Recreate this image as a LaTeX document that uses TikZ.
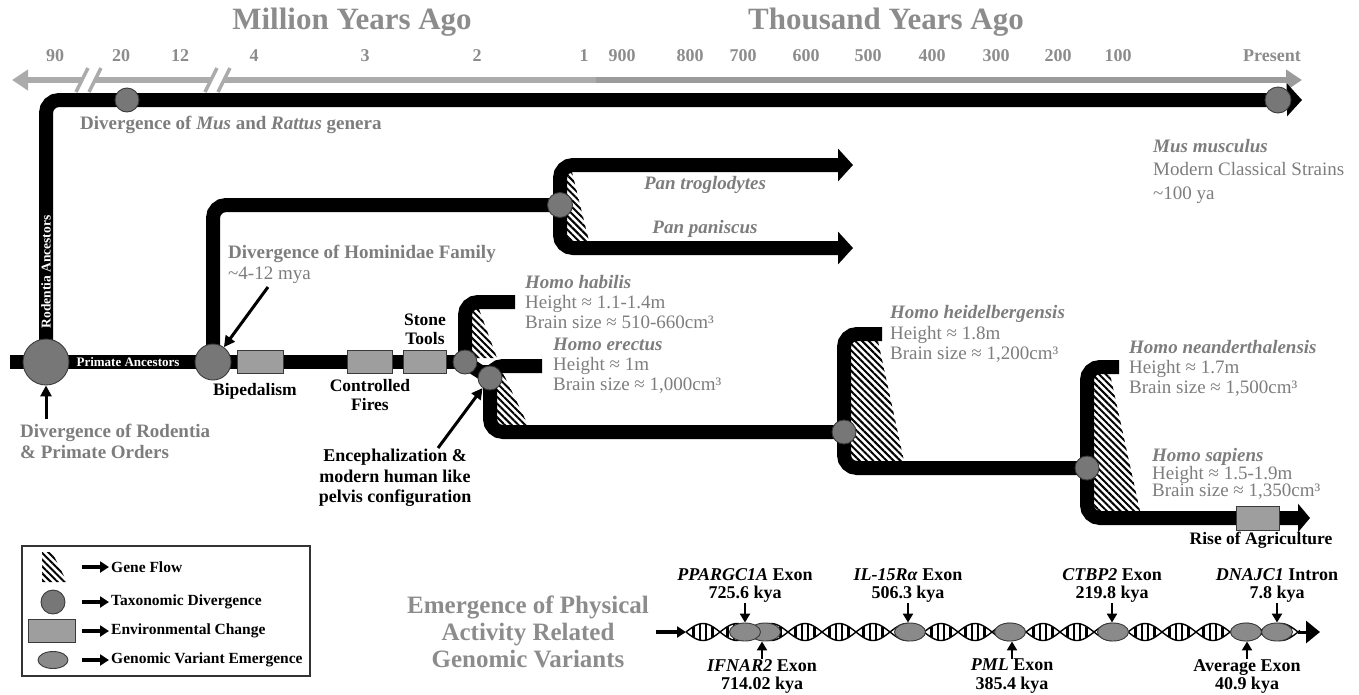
\documentclass[tikz,border=0pt]{standalone}
\usepackage{fontspec}
\setmainfont{Liberation Serif}
\usetikzlibrary{positioning, arrows.meta, shapes.geometric, patterns.meta}

\definecolor{titlegray}{HTML}{8C8C8C}
\definecolor{txtgray}{HTML}{7D7D7D}
\definecolor{axisgray}{HTML}{ABABAB}
\definecolor{axisdark}{HTML}{9B9B9B}
\definecolor{taxgray}{HTML}{777777}
\definecolor{boxgray}{HTML}{9E9E9E}
\definecolor{vargray}{HTML}{8A8A8A}
\definecolor{edgegray}{HTML}{3A3A3A}

\newcommand{\fsz}[2]{\fontsize{#1}{#2}\selectfont}

\tikzset{
  axisline/.style={line width=6pt, axisgray},
  brk/.style={line width=3.5pt, axisgray},
  bar/.style={line width=14pt, rounded corners=13pt},
  bararrow/.style={bar, -{Triangle[length=15pt,width=32pt]}},
  taxon/.style={circle, fill=taxgray, draw=edgegray, line width=0.9pt, inner sep=0pt, minimum size=#1},
  taxon/.default=24pt,
  envbox/.style={rectangle, fill=boxgray, draw=edgegray, line width=0.9pt, inner sep=0pt, minimum width=#1, minimum height=23pt},
  envbox/.default=45pt,
  variant/.style={ellipse, fill=vargray, draw=edgegray, line width=0.9pt, inner sep=0pt, minimum width=31pt, minimum height=18pt},
  geneflow/.style={pattern={Lines[angle=-45,distance=4.8pt,line width=2pt]}},
  ptr/.style={line width=3pt, -{Triangle[length=11pt,width=11pt]}},
  dnaptr/.style={line width=2.8pt, -{Triangle[length=9pt,width=10pt]}},
  legarrow/.style={line width=3.4pt, -{Triangle[length=9pt,width=11pt]}},
  rung/.style={line width=2.6pt},
  axtitle/.style={font=\fsz{31}{33}\bfseries, text=titlegray, inner sep=0pt},
  ticklbl/.style={font=\fsz{18}{20}\bfseries, text=titlegray, inner sep=0pt},
  divtext/.style={font=\fsz{19}{21}\bfseries, text=txtgray, align=left, inner sep=0pt},
  species/.style={font=\fsz{19}{20}, text=txtgray, align=left, inner sep=0pt, anchor=west},
  sppname/.style={font=\fsz{19}{20}\bfseries\itshape, text=txtgray, inner sep=0pt},
  event/.style={font=\fsz{17.5}{19.5}\bfseries, align=center, inner sep=0pt},
  inbar/.style={font=\fsz{13}{13}\bfseries, text=white, inner sep=0pt},
  genelbl/.style={font=\fsz{18}{18.5}\bfseries, align=center, inner sep=0pt},
  legtext/.style={font=\fsz{15.5}{16}\bfseries, anchor=west, inner sep=0pt}
}

\begin{document}
\begin{tikzpicture}[x=1pt, y=-1pt]
\useasboundingbox (0,0) rectangle (1359,694);

% time axis
\node[axtitle] (mya) at (352,22) {Million Years Ago};
\node[axtitle] (kya) at (886,22) {Thousand Years Ago};
\foreach \x/\t in {55/90, 121/20, 180/12, 254/4, 365/3, 477/2, 584/1, 622/900, 690/800, 743/700, 806/600, 868/500, 932/400, 996/300, 1058/200, 1118/100, 1272/Present}
  \node[ticklbl] (tick\x) at (\x,56) {\t};
\coordinate (axL) at (12,80);
\coordinate (axB1a) at (82,80);
\coordinate (axB1b) at (95,80);
\coordinate (axB2a) at (211,80);
\coordinate (axB2b) at (224,80);
\coordinate (axMid) at (596,80);
\coordinate (axR) at (1302,80);
\draw[axisline, {Triangle[length=16pt,width=20pt]}-] (axL) -- (axB1a);
\draw[axisline] (axB1b) -- (axB2a);
\draw[axisline] (axB2b) -- (axMid);
\draw[axisline, axisdark, -{Triangle[length=16pt,width=20pt]}] (axMid) -- (axR);
\foreach \b in {82,95,211,224}
  \draw[brk] ({\b-6},92) -- ({\b+6},68);

% gene flow
\fill[geneflow] (567,172) -- (572,172) -- (589,241) -- (567,241) -- cycle;
\fill[geneflow] (472,309) -- (479,309) -- (497,358) -- (472,358) -- cycle;
\fill[geneflow] (497,373) -- (503,373) -- (528,425) -- (497,425) -- cycle;
\fill[geneflow] (851,341) -- (878,341) -- (904,461) -- (851,461) -- cycle;
\fill[geneflow] (1094,374) -- (1110,374) -- (1140,511) -- (1094,511) -- cycle;

% lineages
\coordinate (jRod) at (46,362);
\coordinate (jHom) at (213,362);
\coordinate (jMus) at (127,100);
\coordinate (jNow) at (1278,100);
\coordinate (jPan) at (560,205);
\coordinate (jHab) at (465,362);
\coordinate (jEre) at (490,378);
\coordinate (jHei) at (844,432);
\coordinate (jNea) at (1087,468);
\coordinate (priStart) at (10,362);
\coordinate (musEnd) at (1302,100);
\coordinate (panTop) at (853,165);
\coordinate (panBot) at (853,248);
\coordinate (habEnd) at (515,302);
\coordinate (ereEnd) at (542,366);
\coordinate (heiEnd) at (882,334);
\coordinate (neaEnd) at (1119,367);
\coordinate (sapEnd) at (1310,518);

\draw[bararrow] (jRod) |- (musEnd);
\draw[bar] (priStart) -- (jHab);
\draw[bar] (jHom) |- (jPan);
\draw[bararrow] (jPan) |- (panTop);
\draw[bararrow] (jPan) |- (panBot);
\draw[bar] (habEnd) -| (jHab);
\draw[bar] (jHab) -- (jEre);
\draw[bar] (ereEnd) -| (jEre) |- (jHei);
\draw[bar] (heiEnd) -| (jHei) |- (jNea);
\draw[bar, -{Triangle[length=12pt,width=28pt]}] (neaEnd) -| (jNea) |- (sapEnd);

\node[inbar, rotate=90, font=\fsz{13.5}{14}\bfseries] (rodAnc) at (46,272) {Rodentia Ancestors};
\node[inbar] (priAnc) at (128,362) {Primate Ancestors};

\node[envbox=46pt] (bipbox) at (260,362) {};
\node[envbox=45pt] (firebox) at (370,362) {};
\node[envbox=43pt] (stonebox) at (425,362) {};
\node[envbox=43pt, minimum height=24pt] (agribox) at (1258,518) {};

\node[taxon=46pt] (rodprim) at (jRod) {};
\node[taxon=36pt] (homdiv) at (jHom) {};
\node[taxon=24pt] (musdiv) at (jMus) {};
\node[taxon=26pt] (musnow) at (jNow) {};
\node[taxon=25pt] (pandiv) at (jPan) {};
\node[taxon=24pt] (habdiv) at (jHab) {};
\node[taxon=24pt] (erediv) at (jEre) {};
\node[taxon=24pt] (heidiv) at (jHei) {};
\node[taxon=24pt] (neadiv) at (jNea) {};

% labels
\node[divtext, anchor=west] (musTxt) at (80,125) {Divergence of \textit{Mus} and \textit{Rattus} genera};
\node[species, font=\fsz{19}{23.5}] (musmus) at (1153,171) {{\bfseries\itshape Mus musculus}\\Modern Classical Strains\\\textasciitilde100 ya};
\node[sppname] (pantro) at (705,185) {Pan troglodytes};
\node[sppname] (panpan) at (705,229) {Pan paniscus};
\node[divtext, anchor=west] (homTxt) at (228,264) {Divergence of Hominidae Family\\{\mdseries\textasciitilde4-12 mya}};
\node[divtext, anchor=west] (rodTxt) at (20,441) {Divergence of Rodentia\\\& Primate Orders};
\coordinate (homPt) at (268,287);
\coordinate (rodPt) at (46,419);
\coordinate (encPt) at (438,448);
\draw[ptr] (homPt) -- (homdiv);
\draw[ptr] (rodPt) -- (rodprim);
\draw[ptr] (encPt) -- (erediv);

\node[event, below=9pt of bipbox, xshift=-5pt] (biplbl) {Bipedalism};
\node[event, below=5pt of firebox] (firelbl) {Controlled\\Fires};
\node[event, above=5pt of stonebox] (stonelbl) {Stone\\Tools};
\node[event, below=2pt of agribox, xshift=3pt] (agrilbl) {Rise of Agriculture};
\node[event, font=\fsz{18}{20.5}\bfseries, anchor=north] (enclbl) at (395,449) {Encephalization \&\\modern human like\\pelvis configuration};

\node[species, right=10pt of habEnd] (habilis) {{\bfseries\itshape Homo habilis}\\Height ≈ 1.1-1.4m\\Brain size ≈ 510-660cm³};
\node[species, right=11pt of ereEnd] (erectus) {{\bfseries\itshape Homo erectus}\\Height ≈ 1m\\Brain size ≈ 1,000cm³};
\node[species, font=\fsz{19}{20.5}, right=8pt of heiEnd] (heidel) {{\bfseries\itshape Homo heidelbergensis}\\Height ≈ 1.8m\\Brain size ≈ 1,200cm³};
\node[species, right=10pt of neaEnd, yshift=-1pt] (neander) {{\bfseries\itshape Homo neanderthalensis}\\Height ≈ 1.7m\\Brain size ≈ 1,500cm³};
\node[species, font=\fsz{19}{17}] (sapiens) at (1152,474) {{\bfseries\itshape Homo sapiens}\\Height ≈ 1.5-1.9m\\Brain size ≈ 1,350cm³};

% legend
\draw[line width=1.2pt, draw=black!80] (22,546) rectangle (310,676);
\fill[geneflow] (42,552) -- (52,552) -- (67,582) -- (42,582) -- cycle;
\node[taxon=24pt] (legTax) at (53,602) {};
\node[envbox=47pt] (legEnv) at (52,631) {};
\node[variant, minimum width=30pt, minimum height=17pt] (legVar) at (53,660) {};
\node[legtext] (ltFlow) at (111,567) {Gene Flow};
\node[legtext] (ltTax) at (111,602) {Taxonomic Divergence};
\node[legtext] (ltEnv) at (111,631) {Environmental Change};
\node[legtext] (ltVar) at (111,660) {Genomic Variant Emergence};
\foreach \r in {ltFlow, ltTax, ltEnv, ltVar}
  \draw[legarrow] ([xshift=-29pt]\r.west) -- ([xshift=-2pt]\r.west);

% genomic variants
\node[font=\fsz{25}{27}\bfseries, text=titlegray, align=center, inner sep=0pt] (emerg) at (528,632) {Emergence of Physical\\Activity Related\\Genomic Variants};
\coordinate (dnaStart) at (686,632);
\coordinate (dnaEnd) at (1298,632);
\coordinate (dnaTip) at (1320,632);
\draw[legarrow] ([xshift=7pt]emerg.east) -- (dnaStart);
\draw[line width=1.4pt, domain=686:1300, samples=300, smooth] plot (\x, {632+8.5*sin(5.29412*(\x-686))});
\draw[line width=1.4pt, domain=686:1300, samples=300, smooth] plot (\x, {632-8.5*sin(5.29412*(\x-686))});
\foreach \k in {0,...,17}
  \foreach \f in {0.22,0.41,0.59,0.78}
    \draw[rung] ({686+34*(\k+\f)}, {632-8.5*sin(180*\f)}) -- ({686+34*(\k+\f)}, {632+8.5*sin(180*\f)});
\draw[line width=3pt, -{Triangle[length=14pt,width=22pt]}] (dnaEnd) -- (dnaTip);

\node[variant] (vIFN) at (765,632) {};
\node[variant] (vPPAR) at (745,632) {};
\node[variant] (vIL) at (910,632) {};
\node[variant] (vPML) at (1010,632) {};
\node[variant] (vCTBP) at (1113,632) {};
\node[variant] (vAVG) at (1246,632) {};
\node[variant] (vDNAJ) at (1277,632) {};

\node[genelbl, anchor=south] (lPPAR) at (745,603) {\textit{PPARGC1A} Exon\\725.6 kya};
\node[genelbl, anchor=south] (lIL) at (908,603) {\textit{IL-15Rα} Exon\\506.3 kya};
\node[genelbl, anchor=south] (lCTBP) at (1112,603) {\textit{CTBP2} Exon\\219.8 kya};
\node[genelbl, anchor=south] (lDNAJ) at (1277,603) {\textit{DNAJC1} Intron\\7.8 kya};
\node[genelbl, anchor=north] (lIFN) at (762,659) {\textit{IFNAR2} Exon\\714.02 kya};
\node[genelbl, anchor=north] (lPML) at (1012,659) {\textit{PML} Exon\\385.4 kya};
\node[genelbl, anchor=north] (lAVG) at (1247,659) {Average Exon\\40.9 kya};
\foreach \g in {PPAR, IL, CTBP, DNAJ}
  \draw[dnaptr] (l\g.south) -- (l\g.south |- v\g.north);
\foreach \g in {IFN, PML, AVG}
  \draw[dnaptr] (l\g.north) -- (l\g.north |- v\g.south);
\end{tikzpicture}
\end{document}
